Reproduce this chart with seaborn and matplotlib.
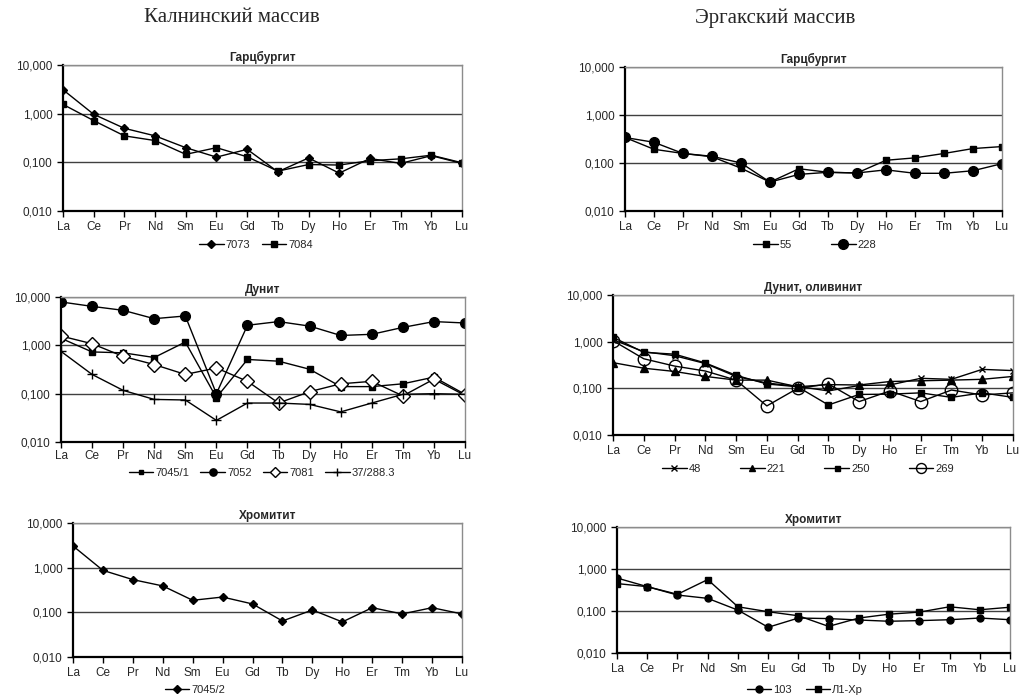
import matplotlib

matplotlib.use("Agg")
import matplotlib.pyplot as plt
import numpy as np
import pandas as pd
import seaborn as sns
from matplotlib.ticker import NullLocator

sns.set_theme(style="ticks")
plt.rcParams["font.family"] = ["Liberation Sans", "DejaVu Sans"]

REE = ["La", "Ce", "Pr", "Nd", "Sm", "Eu", "Gd", "Tb", "Dy", "Ho", "Er", "Tm", "Yb", "Lu"]
Y_TICKS = [0.01, 0.1, 1, 10]
Y_LABELS = ["0,010", "0,100", "1,000", "10,000"]

# Калнинский массив
kal_harz_7073 = [3.1, 0.97, 0.5, 0.35, 0.2, 0.128, 0.185, 0.064, 0.123, 0.06, 0.12, 0.095, 0.137, 0.095]
kal_harz_7084 = [1.55, 0.72, 0.35, 0.28, 0.146, 0.2, 0.13, 0.066, 0.09, 0.088, 0.108, 0.118, 0.14, 0.098]
kal_dun_7045_1 = [1.4, 0.73, 0.7, 0.56, 1.17, 0.083, 0.51, 0.47, 0.32, 0.14, 0.14, 0.16, 0.22, 0.097]
kal_dun_7052 = [7.9, 6.4, 5.3, 3.56, 4.05, 0.1, 2.6, 3.1, 2.5, 1.6, 1.69, 2.35, 3.1, 2.9]
kal_dun_7081 = [1.56, 1.08, 0.59, 0.40, 0.25, 0.34, 0.18, 0.064, 0.11, 0.16, 0.18, 0.09, 0.2, 0.092]
kal_dun_37_288 = [0.75, 0.25, 0.117, 0.076, 0.074, 0.028, 0.064, 0.064, 0.06, 0.042, 0.064, 0.097, 0.1, 0.097]
kal_chr_7045_2 = [3.06, 0.87, 0.54, 0.39, 0.186, 0.22, 0.154, 0.064, 0.113, 0.061, 0.127, 0.092, 0.127, 0.092]

# Эргакский массив
erg_harz_55 = [0.34, 0.193, 0.158, 0.135, 0.078, 0.040, 0.076, 0.064, 0.062, 0.114, 0.128, 0.158, 0.2, 0.22]
erg_harz_228 = [0.34, 0.27, 0.158, 0.138, 0.1, 0.04, 0.058, 0.064, 0.062, 0.072, 0.061, 0.061, 0.069, 0.097]
erg_dun_48 = [1.1, 0.61, 0.5, 0.34, 0.18, 0.13, 0.11, 0.088, 0.115, 0.118, 0.164, 0.156, 0.255, 0.24]
erg_dun_221 = [0.355, 0.27, 0.23, 0.18, 0.15, 0.15, 0.108, 0.12, 0.118, 0.14, 0.145, 0.15, 0.156, 0.18]
erg_dun_250 = [1.24, 0.59, 0.54, 0.35, 0.19, 0.124, 0.108, 0.044, 0.074, 0.075, 0.08, 0.064, 0.08, 0.064]
erg_dun_269 = [1.05, 0.43, 0.30, 0.235, 0.15, 0.042, 0.1, 0.124, 0.052, 0.088, 0.052, 0.092, 0.072, 0.08]
erg_chr_103 = [0.61, 0.38, 0.24, 0.2, 0.105, 0.041, 0.068, 0.066, 0.061, 0.057, 0.059, 0.062, 0.068, 0.062]
erg_chr_l1 = [0.45, 0.38, 0.25, 0.56, 0.126, 0.096, 0.077, 0.043, 0.068, 0.084, 0.094, 0.126, 0.107, 0.123]

W, H = 1023, 700

# marker styles
SQ = dict(marker="s", markersize=4.5, markerfacecolor="black")
DIA = dict(marker="D", markersize=4, markerfacecolor="black")
CIR = dict(marker="o", markersize=7, markerfacecolor="black")
CIR_S = dict(marker="o", markersize=5, markerfacecolor="black")
ODIA = dict(marker="D", markersize=7, markerfacecolor="white")
OCIR = dict(marker="o", markersize=9, markerfacecolor="none")
PLUS = dict(marker="+", markersize=7)
XM = dict(marker="x", markersize=5)
TRI = dict(marker="^", markersize=5.5, markerfacecolor="black")


def px_rect(x0, y0, x1, y1):
    return [x0 / W, 1 - y1 / H, (x1 - x0) / W, (y1 - y0) / H]


def draw_panel(fig, rect, title, series, leg_xy, colspacing=1.0, tick_pad=3.5, mscale=1.0):
    ax = fig.add_axes(px_rect(*rect))
    pos = np.arange(len(REE))
    for label, values, style in series:
        df = pd.DataFrame({"pos": pos, "val": values})
        sns.lineplot(data=df, x="pos", y="val", ax=ax, color="black", linewidth=1,
                     markeredgecolor="black", markeredgewidth=1, label=label,
                     estimator=None, **style)
    ax.set_yscale("log")
    ax.set_ylim(0.01, 10)
    ax.set_xlim(0, len(REE) - 1)
    ax.set_yticks(Y_TICKS)
    ax.set_yticklabels(Y_LABELS)
    ax.yaxis.set_minor_locator(NullLocator())
    ax.set_xticks(pos)
    ax.set_xticklabels(REE)
    ax.set_xlabel("")
    ax.set_ylabel("")
    ax.tick_params(direction="out", length=4, width=1, labelsize=8.5, pad=3.5, color="black")
    ax.tick_params(axis="x", pad=tick_pad)
    ax.yaxis.grid(True, color="#404040", linewidth=1)
    ax.xaxis.grid(False)
    for side in ("left", "bottom"):
        ax.spines[side].set_color("black")
        ax.spines[side].set_linewidth(1.6)
    for side in ("top", "right"):
        ax.spines[side].set_visible(True)
        ax.spines[side].set_color("#8c8c8c")
        ax.spines[side].set_linewidth(1)
    ax.set_title(title, fontsize=8.5, fontweight="bold", pad=3)
    ax.legend(loc="center", bbox_to_anchor=(leg_xy[0] / W, 1 - leg_xy[1] / H),
              bbox_transform=fig.transFigure, ncol=len(series), frameon=False,
              fontsize=8, handlelength=2.2, handletextpad=0.2, markerscale=mscale,
              columnspacing=colspacing, borderaxespad=0, borderpad=0)
    return ax


fig = plt.figure(figsize=(W / 100, H / 100), dpi=100)

fig.text(232 / W, 1 - 18 / H, "Калнинский массив", ha="center", va="center",
         fontsize=15, family=["Liberation Serif", "DejaVu Serif"])
fig.text(775 / W, 1 - 18 / H, "Эргакский массив", ha="center", va="center",
         fontsize=15, family=["Liberation Serif", "DejaVu Serif"])

draw_panel(fig, (63, 65, 462, 211), "Гарцбургит",
           [("7073", kal_harz_7073, DIA), ("7084", kal_harz_7084, SQ)],
           (256, 245))
draw_panel(fig, (61, 297, 465, 442), "Дунит",
           [("7045/1", kal_dun_7045_1, SQ), ("7052", kal_dun_7052, CIR),
            ("7081", kal_dun_7081, ODIA), ("37/288.3", kal_dun_37_288, PLUS)],
           (262, 473), tick_pad=2, mscale=0.75)
draw_panel(fig, (73, 523, 462, 657), "Хромитит",
           [("7045/2", kal_chr_7045_2, DIA)],
           (195, 690))

draw_panel(fig, (625, 67, 1002, 211), "Гарцбургит",
           [("55", erg_harz_55, SQ), ("228", erg_harz_228, CIR)],
           (815, 245), colspacing=3.5)
draw_panel(fig, (613, 295, 1013, 435), "Дунит, оливинит",
           [("48", erg_dun_48, XM), ("221", erg_dun_221, TRI),
            ("250", erg_dun_250, SQ), ("269", erg_dun_269, OCIR)],
           (808, 469), colspacing=3.5, mscale=0.8)
draw_panel(fig, (617, 527, 1010, 653), "Хромитит",
           [("103", erg_chr_103, CIR_S), ("Л1-Хр", erg_chr_l1, SQ)],
           (805, 690), colspacing=1.2)

fig.savefig("out.png", dpi=100)
